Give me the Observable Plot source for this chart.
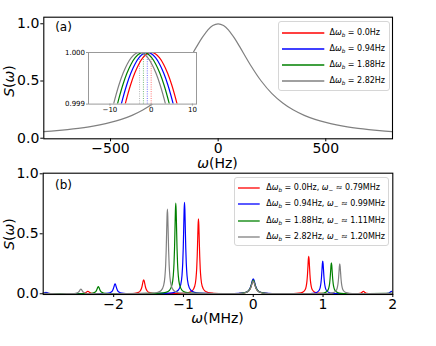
<!DOCTYPE html>
<html><head><meta charset="utf-8">
<script src="https://cdn.jsdelivr.net/npm/d3@7"></script>
<script src="https://cdn.jsdelivr.net/npm/@observablehq/plot@0.6"></script>
<style>
body{margin:0;background:#fff;font-family:"DejaVu Sans",sans-serif;}
#wrap{position:relative;width:436px;height:346px;overflow:hidden;background:#fff;}
#wrap > svg{position:absolute;overflow:visible;background:transparent;}
.lab{position:absolute;white-space:nowrap;transform:translate(-50%,-50%);color:#000;line-height:1;}
.rot{transform:translate(-50%,-50%) rotate(-90deg);}
i{font-style:italic;}
sub{font-size:70%;vertical-align:-0.3em;line-height:0;}
.legend{position:absolute;border:1px solid #d6d6d6;border-radius:3px;background:rgba(255,255,255,0.85);box-sizing:border-box;}
.lrow{position:absolute;left:0;right:0;height:0;}
.lline{position:absolute;top:-3px;overflow:visible;}
.ltext{position:absolute;font-size:8px;white-space:nowrap;transform:translateY(-52%);line-height:1;}
</style>
</head><body>
<div id="wrap"></div>
<script>
// ---------- data ----------
const seriesColors = ["#ff0000", "#0000ff", "#008000", "#808080"];
const dOmegaB = ["0.0", "0.94", "1.88", "2.82"];
const omegaMinus = ["0.79", "0.99", "1.11", "1.20"];

// panel (a): main spectrum (Hz) (all four series coincide at this scale)
const mainHz = [-810,-750,-700,-650,-600,-550,-500,-450,-400,-350,-300,-250,-200,-150,-100,-75,-50,-25,0,25,50,75,100,150,200,250,300,350,400,450,500,550,600,650,700,750,810];
const mainS  = [0.0575,0.0664,0.0755,0.0865,0.100,0.117,0.138,0.165,0.200,0.246,0.308,0.390,0.500,0.640,0.800,0.877,0.941,0.985,1.000,0.985,0.941,0.877,0.800,0.640,0.500,0.390,0.308,0.246,0.200,0.165,0.138,0.117,0.100,0.0865,0.0755,0.0664,0.0575];
const mainTicksX = [-500, 0, 500];
const mainTicksY = [0, 0.5, 1.0];

// inset: peak tops near 1.000
const insetCenters = [0, -0.94, -1.88, -2.82];
const insetOffsets = [-7,-6.3,-5,-4,-3,-2,-1,0,1,2,3,4,5,6.3,7];
const insetValues  = [0.998765,0.999,0.99937,0.999597,0.999773,0.999899,0.999975,1.0,0.999975,0.999899,0.999773,0.999597,0.99937,0.999,0.998765];
const insetTicksX = [-10, 0, 10];
const insetTicksY = [0.999, 1.000];

// panel (b): peaks (MHz)
const peakCenters = [
  [-2.37, -1.57, -0.785, 0, 0.795, 1.578],
  [-2.97, -1.98, -0.985, 0, 0.996, 1.98],
  [-2.22, -1.11, 0, 1.12],
  [-2.47, -1.23, 0, 1.24]
];
const peakHeights = [
  [0.02, 0.117, 0.625, 0.11, 0.313, 0.02],
  [0.012, 0.083, 0.763, 0.125, 0.272, 0.02],
  [0.06, 0.755, 0.115, 0.258],
  [0.04, 0.705, 0.105, 0.25]
];
const peakWidths = [
  [0.03, 0.025, 0.018, 0.035, 0.018, 0.025],
  [0.03, 0.025, 0.018, 0.035, 0.018, 0.025],
  [0.025, 0.018, 0.035, 0.018],
  [0.025, 0.018, 0.035, 0.018]
];
// peak profile (offset in half-widths, relative height)
const profileU = [-12,-8,-5,-3,-2,-1.4,-1,-0.6,-0.3,0,0.3,0.6,1,1.4,2,3,5,8,12];
const profileR = [0.0069,0.0154,0.0385,0.1,0.2,0.3378,0.5,0.7353,0.9174,1,0.9174,0.7353,0.5,0.3378,0.2,0.1,0.0385,0.0154,0.0069];
const baseLevel = 0.003;
const bTicksX = [-2, -1, 0, 1, 2];
const bTicksY = [0, 0.5, 1.0];

// ---------- build ----------
const wrap = document.getElementById("wrap");
const xDomA = [-810, 810], yDomA = [-0.005, 1.0575];
const xDomB = [-3.01, 2.0], yDomB = [-0.006, 1.005];

const mainTable = mainHz.map((x, i) => ({x, y: mainS[i]}));
const insetTables = insetCenters.map(c => insetOffsets.map((o, j) => ({x: c + o, y: insetValues[j]})));

function buildSeries(cs, hs, ws) {
  const pts = [];
  cs.forEach((c, k) => profileU.forEach((u, j) => pts.push({x: c + u * ws[k], y: hs[k] * profileR[j]})));
  pts.sort((a, b) => a.x - b.x);
  if (pts[0].x > xDomB[0]) pts.unshift({x: xDomB[0] - 0.05, y: baseLevel});
  if (pts[pts.length - 1].x < xDomB[1]) pts.push({x: xDomB[1] + 0.05, y: baseLevel});
  return pts;
}
const bTables = peakCenters.map((cs, i) => buildSeries(cs, peakHeights[i], peakWidths[i]));

function place(el, left, top) {
  el.style.left = left + "px"; el.style.top = top + "px";
  wrap.appendChild(el);
}

// panel (a)
const topPlot = Plot.plot({
  width: 436, height: 160,
  marginLeft: 43.3, marginRight: 44, marginTop: 16.7, marginBottom: 21.7,
  style: {fontFamily: "DejaVu Sans", fontSize: "14px", background: "transparent", color: "#000"},
  x: {domain: xDomA}, y: {domain: yDomA},
  marks: [
    Plot.line(mainTable, {x: "x", y: "y", stroke: seriesColors[3], strokeWidth: 1.2, curve: "catmull-rom", clip: true}),
    Plot.frame({stroke: "#000", strokeWidth: 1.1}),
    Plot.axisX({ticks: mainTicksX, tickSize: 3, tickPadding: 1.5, label: null, tickFormat: d3.format("d")}),
    Plot.axisY({ticks: mainTicksY, tickSize: 3, tickPadding: 1.5, label: null, tickFormat: d3.format(".1f")})
  ]
});
place(topPlot, 0, 0);

// inset
const insetPlot = Plot.plot({
  width: 148, height: 77,
  marginLeft: 30, marginRight: 10, marginTop: 10, marginBottom: 15.4,
  style: {fontFamily: "DejaVu Sans", fontSize: "7px", background: "transparent", color: "#000"},
  x: {domain: [-15.2, 11]}, y: {domain: [0.999, 1.000]},
  marks: [
    Plot.frame({fill: "#fff", stroke: "none"}),
    ...insetCenters.map((c, i) => Plot.ruleX([c], {y1: 0.999, y2: 1.0, stroke: seriesColors[i], strokeWidth: 0.8, strokeDasharray: "1,1.3", strokeOpacity: 0.7})),
    ...insetTables.map((t, i) => Plot.line(t, {x: "x", y: "y", stroke: seriesColors[i], strokeWidth: 1.2, curve: "catmull-rom", clip: true})),
    Plot.frame({stroke: "#999", strokeWidth: 1}),
    Plot.axisX({ticks: insetTicksX, tickSize: 2, tickPadding: 1, label: null, tickFormat: d3.format("d"), stroke: "#999"}),
    Plot.axisY({ticks: insetTicksY, tickSize: 2, tickPadding: 1.5, label: null, tickFormat: d3.format(".3f"), stroke: "#999"})
  ]
});
place(insetPlot, 87.7 - 30, 51.7 - 10);

// panel (b)
const botPlot = Plot.plot({
  width: 436, height: 196,
  marginLeft: 42.7, marginRight: 43.7, marginTop: 22.7, marginBottom: 52,
  style: {fontFamily: "DejaVu Sans", fontSize: "14px", background: "transparent", color: "#000"},
  x: {domain: xDomB}, y: {domain: yDomB},
  marks: [
    ...bTables.map((t, i) => Plot.line(t, {x: "x", y: "y", stroke: seriesColors[i], strokeWidth: 1.2, curve: "monotone-x", clip: true})),
    Plot.frame({stroke: "#000", strokeWidth: 1.1}),
    Plot.axisX({ticks: bTicksX, tickSize: 3, tickPadding: 1.5, label: null, tickFormat: d3.format("d")}),
    Plot.axisY({ticks: bTicksY, tickSize: 3, tickPadding: 1.5, label: null, tickFormat: d3.format(".1f")})
  ]
});
place(botPlot, 0, 150);

// text labels
function label(html, x, y, size, rot) {
  const d = document.createElement("div");
  d.className = "lab" + (rot ? " rot" : "");
  d.style.fontSize = size + "px";
  d.innerHTML = html;
  d.style.left = x + "px"; d.style.top = y + "px";
  wrap.appendChild(d);
}
label("<i>ω</i>(Hz)", 217.5, 163.3, 14);
label("<i>ω</i>(MHz)", 217.5, 318.3, 14);
label("<i>S</i>(<i>ω</i>)", 8.5, 80.5, 14, true);
label("<i>S</i>(<i>ω</i>)", 8.5, 234, 14, true);
label("(a)", 63.5, 27.3, 12);
label("(b)", 63.5, 185, 12);

// legends
const SVGNS = "http://www.w3.org/2000/svg";
function legend(left, top, w, h, rows, row0, rowStep, l1, l2, tx) {
  const box = document.createElement("div");
  box.className = "legend";
  box.style.left = left + "px"; box.style.top = top + "px";
  box.style.width = w + "px"; box.style.height = h + "px";
  rows.forEach((html, i) => {
    const r = document.createElement("div");
    r.className = "lrow";
    r.style.top = Math.round(row0 + i * rowStep) + "px";
    const s = document.createElementNS(SVGNS, "svg");
    s.setAttribute("class", "lline");
    s.setAttribute("width", l2 - l1);
    s.setAttribute("height", 6);
    s.style.left = l1 + "px";
    const ln = document.createElementNS(SVGNS, "line");
    ln.setAttribute("x1", 0); ln.setAttribute("x2", l2 - l1);
    ln.setAttribute("y1", 3); ln.setAttribute("y2", 3);
    ln.setAttribute("stroke", seriesColors[i]);
    ln.setAttribute("stroke-width", 1.3);
    s.appendChild(ln);
    const t = document.createElement("div");
    t.className = "ltext";
    t.style.left = tx + "px";
    t.innerHTML = html;
    r.appendChild(s); r.appendChild(t);
    box.appendChild(r);
  });
  wrap.appendChild(box);
}
const dw = "Δ<i>ω</i><sub><i>b</i></sub>";
legend(278, 21, 112, 70,
  dOmegaB.map(v => `${dw} = ${v}Hz`), 10.6, 16, 2.7, 45, 50.5);
legend(234, 177, 155, 69,
  dOmegaB.map((v, i) => `${dw} = ${v}Hz, <i>ω</i><sub>−</sub> ≈ ${omegaMinus[i]}MHz`), 10, 16.4, 3.3, 25, 31.3);
</script>
</body></html>
